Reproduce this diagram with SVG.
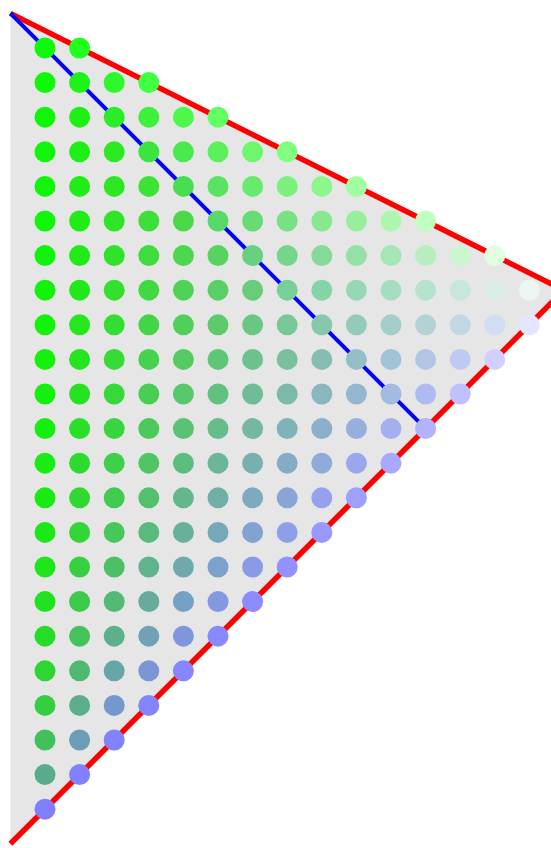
<svg xmlns="http://www.w3.org/2000/svg" width="551" height="848" viewBox="0 0 551 848">
<style>
.edge{fill:none;stroke:#ff0000;stroke-width:5.5;stroke-linejoin:miter}
.alt{fill:none;stroke:#0000ff;stroke-width:4}
.tri{fill:#e6e6e6;stroke:none}
</style>
<rect x="0" y="0" width="551" height="848" fill="#ffffff"/>
<g id="triangle"><polygon class="tri" points="10.4,13.4 564,290.2 10.4,843.8"/></g>
<g id="connectors">
<polyline class="edge" points="10.4,13.4 564,290.2 10.4,843.8"/>
<line class="alt" x1="10.4" y1="13.4" x2="425.6" y2="428.6"/>
</g>
<g id="dots">
<g id="row0"><circle cx="45" cy="48" r="10.5" fill="rgb(15,249,10)"/><circle cx="79.6" cy="48" r="10.5" fill="rgb(33,255,33)"/></g>
<g id="row1"><circle cx="45" cy="82.6" r="10.5" fill="rgb(15,248,7)"/><circle cx="79.6" cy="82.6" r="10.5" fill="rgb(29,242,25)"/><circle cx="114.2" cy="82.6" r="10.5" fill="rgb(46,248,43)"/><circle cx="148.8" cy="82.6" r="10.5" fill="rgb(65,255,65)"/></g>
<g id="row2"><circle cx="45" cy="117.2" r="10.5" fill="rgb(15,247,7)"/><circle cx="79.6" cy="117.2" r="10.5" fill="rgb(30,240,19)"/><circle cx="114.2" cy="117.2" r="10.5" fill="rgb(44,236,42)"/><circle cx="148.8" cy="117.2" r="10.5" fill="rgb(61,241,58)"/><circle cx="183.4" cy="117.2" r="10.5" fill="rgb(78,248,75)"/><circle cx="218" cy="117.2" r="10.5" fill="rgb(97,255,97)"/></g>
<g id="row3"><circle cx="45" cy="151.8" r="10.5" fill="rgb(16,246,8)"/><circle cx="79.6" cy="151.8" r="10.5" fill="rgb(31,239,20)"/><circle cx="114.2" cy="151.8" r="10.5" fill="rgb(45,233,34)"/><circle cx="148.8" cy="151.8" r="10.5" fill="rgb(59,229,61)"/><circle cx="183.4" cy="151.8" r="10.5" fill="rgb(75,234,76)"/><circle cx="218" cy="151.8" r="10.5" fill="rgb(92,240,91)"/><circle cx="252.6" cy="151.8" r="10.5" fill="rgb(109,247,108)"/><circle cx="287.2" cy="151.8" r="10.5" fill="rgb(129,255,129)"/></g>
<g id="row4"><circle cx="45" cy="186.4" r="10.5" fill="rgb(16,245,8)"/><circle cx="79.6" cy="186.4" r="10.5" fill="rgb(31,237,21)"/><circle cx="114.2" cy="186.4" r="10.5" fill="rgb(46,231,36)"/><circle cx="148.8" cy="186.4" r="10.5" fill="rgb(60,226,52)"/><circle cx="183.4" cy="186.4" r="10.5" fill="rgb(73,222,82)"/><circle cx="218" cy="186.4" r="10.5" fill="rgb(89,227,96)"/><circle cx="252.6" cy="186.4" r="10.5" fill="rgb(105,233,110)"/><circle cx="287.2" cy="186.4" r="10.5" fill="rgb(123,240,125)"/><circle cx="321.8" cy="186.4" r="10.5" fill="rgb(141,247,140)"/><circle cx="356.4" cy="186.4" r="10.5" fill="rgb(161,255,161)"/></g>
<g id="row5"><circle cx="45" cy="221" r="10.5" fill="rgb(17,245,9)"/><circle cx="79.6" cy="221" r="10.5" fill="rgb(32,236,23)"/><circle cx="114.2" cy="221" r="10.5" fill="rgb(47,229,39)"/><circle cx="148.8" cy="221" r="10.5" fill="rgb(61,223,56)"/><circle cx="183.4" cy="221" r="10.5" fill="rgb(74,218,73)"/><circle cx="218" cy="221" r="10.5" fill="rgb(88,216,104)"/><circle cx="252.6" cy="221" r="10.5" fill="rgb(103,220,117)"/><circle cx="287.2" cy="221" r="10.5" fill="rgb(119,225,131)"/><circle cx="321.8" cy="221" r="10.5" fill="rgb(136,232,144)"/><circle cx="356.4" cy="221" r="10.5" fill="rgb(153,238,158)"/><circle cx="391" cy="221" r="10.5" fill="rgb(172,246,173)"/><circle cx="425.6" cy="221" r="10.5" fill="rgb(192,255,192)"/></g>
<g id="row6"><circle cx="45" cy="255.6" r="10.5" fill="rgb(17,244,10)"/><circle cx="79.6" cy="255.6" r="10.5" fill="rgb(33,234,25)"/><circle cx="114.2" cy="255.6" r="10.5" fill="rgb(48,226,42)"/><circle cx="148.8" cy="255.6" r="10.5" fill="rgb(62,220,60)"/><circle cx="183.4" cy="255.6" r="10.5" fill="rgb(76,215,78)"/><circle cx="218" cy="255.6" r="10.5" fill="rgb(89,211,96)"/><circle cx="252.6" cy="255.6" r="10.5" fill="rgb(103,209,127)"/><circle cx="287.2" cy="255.6" r="10.5" fill="rgb(117,213,140)"/><circle cx="321.8" cy="255.6" r="10.5" fill="rgb(133,218,153)"/><circle cx="356.4" cy="255.6" r="10.5" fill="rgb(149,224,166)"/><circle cx="391" cy="255.6" r="10.5" fill="rgb(166,230,180)"/><circle cx="425.6" cy="255.6" r="10.5" fill="rgb(184,237,193)"/><circle cx="460.2" cy="255.6" r="10.5" fill="rgb(203,246,207)"/><circle cx="494.8" cy="255.6" r="10.5" fill="rgb(224,255,224)"/></g>
<g id="row7"><circle cx="45" cy="290.2" r="10.5" fill="rgb(18,243,10)"/><circle cx="79.6" cy="290.2" r="10.5" fill="rgb(34,232,27)"/><circle cx="114.2" cy="290.2" r="10.5" fill="rgb(50,224,45)"/><circle cx="148.8" cy="290.2" r="10.5" fill="rgb(64,217,65)"/><circle cx="183.4" cy="290.2" r="10.5" fill="rgb(78,211,84)"/><circle cx="218" cy="290.2" r="10.5" fill="rgb(91,207,103)"/><circle cx="252.6" cy="290.2" r="10.5" fill="rgb(104,204,121)"/><circle cx="287.2" cy="290.2" r="10.5" fill="rgb(119,208,151)"/><circle cx="321.8" cy="290.2" r="10.5" fill="rgb(133,212,166)"/><circle cx="356.4" cy="290.2" r="10.5" fill="rgb(149,216,179)"/><circle cx="391" cy="290.2" r="10.5" fill="rgb(165,221,192)"/><circle cx="425.6" cy="290.2" r="10.5" fill="rgb(181,226,204)"/><circle cx="460.2" cy="290.2" r="10.5" fill="rgb(198,231,217)"/><circle cx="494.8" cy="290.2" r="10.5" fill="rgb(216,238,230)"/><circle cx="529.4" cy="290.2" r="10.5" fill="rgb(236,246,243)"/></g>
<g id="row8"><circle cx="45" cy="324.8" r="10.5" fill="rgb(19,242,11)"/><circle cx="79.6" cy="324.8" r="10.5" fill="rgb(36,231,29)"/><circle cx="114.2" cy="324.8" r="10.5" fill="rgb(51,221,49)"/><circle cx="148.8" cy="324.8" r="10.5" fill="rgb(66,214,70)"/><circle cx="183.4" cy="324.8" r="10.5" fill="rgb(80,207,90)"/><circle cx="218" cy="324.8" r="10.5" fill="rgb(93,202,110)"/><circle cx="252.6" cy="324.8" r="10.5" fill="rgb(106,199,130)"/><circle cx="287.2" cy="324.8" r="10.5" fill="rgb(119,200,150)"/><circle cx="321.8" cy="324.8" r="10.5" fill="rgb(134,200,172)"/><circle cx="356.4" cy="324.8" r="10.5" fill="rgb(148,202,187)"/><circle cx="391" cy="324.8" r="10.5" fill="rgb(163,206,201)"/><circle cx="425.6" cy="324.8" r="10.5" fill="rgb(178,210,214)"/><circle cx="460.2" cy="324.8" r="10.5" fill="rgb(193,215,228)"/><circle cx="494.8" cy="324.8" r="10.5" fill="rgb(209,221,242)"/><circle cx="529.4" cy="324.8" r="10.5" fill="rgb(229,229,255)"/></g>
<g id="row9"><circle cx="45" cy="359.4" r="10.5" fill="rgb(20,241,13)"/><circle cx="79.6" cy="359.4" r="10.5" fill="rgb(37,228,32)"/><circle cx="114.2" cy="359.4" r="10.5" fill="rgb(54,219,54)"/><circle cx="148.8" cy="359.4" r="10.5" fill="rgb(69,210,76)"/><circle cx="183.4" cy="359.4" r="10.5" fill="rgb(83,203,98)"/><circle cx="218" cy="359.4" r="10.5" fill="rgb(96,198,119)"/><circle cx="252.6" cy="359.4" r="10.5" fill="rgb(109,194,139)"/><circle cx="287.2" cy="359.4" r="10.5" fill="rgb(122,191,158)"/><circle cx="321.8" cy="359.4" r="10.5" fill="rgb(134,189,177)"/><circle cx="356.4" cy="359.4" r="10.5" fill="rgb(149,191,199)"/><circle cx="391" cy="359.4" r="10.5" fill="rgb(162,194,214)"/><circle cx="425.6" cy="359.4" r="10.5" fill="rgb(176,198,228)"/><circle cx="460.2" cy="359.4" r="10.5" fill="rgb(190,202,241)"/><circle cx="494.8" cy="359.4" r="10.5" fill="rgb(208,208,255)"/></g>
<g id="row10"><circle cx="45" cy="394" r="10.5" fill="rgb(21,239,14)"/><circle cx="79.6" cy="394" r="10.5" fill="rgb(39,226,35)"/><circle cx="114.2" cy="394" r="10.5" fill="rgb(56,215,59)"/><circle cx="148.8" cy="394" r="10.5" fill="rgb(72,206,83)"/><circle cx="183.4" cy="394" r="10.5" fill="rgb(86,199,106)"/><circle cx="218" cy="394" r="10.5" fill="rgb(99,193,128)"/><circle cx="252.6" cy="394" r="10.5" fill="rgb(112,188,150)"/><circle cx="287.2" cy="394" r="10.5" fill="rgb(124,185,170)"/><circle cx="321.8" cy="394" r="10.5" fill="rgb(137,183,189)"/><circle cx="356.4" cy="394" r="10.5" fill="rgb(149,182,207)"/><circle cx="391" cy="394" r="10.5" fill="rgb(163,186,225)"/><circle cx="425.6" cy="394" r="10.5" fill="rgb(175,186,241)"/><circle cx="460.2" cy="394" r="10.5" fill="rgb(192,192,255)"/></g>
<g id="row11"><circle cx="45" cy="428.6" r="10.5" fill="rgb(22,238,16)"/><circle cx="79.6" cy="428.6" r="10.5" fill="rgb(42,223,39)"/><circle cx="114.2" cy="428.6" r="10.5" fill="rgb(59,212,65)"/><circle cx="148.8" cy="428.6" r="10.5" fill="rgb(75,202,90)"/><circle cx="183.4" cy="428.6" r="10.5" fill="rgb(90,194,115)"/><circle cx="218" cy="428.6" r="10.5" fill="rgb(103,188,139)"/><circle cx="252.6" cy="428.6" r="10.5" fill="rgb(116,183,162)"/><circle cx="287.2" cy="428.6" r="10.5" fill="rgb(128,179,183)"/><circle cx="321.8" cy="428.6" r="10.5" fill="rgb(140,176,203)"/><circle cx="356.4" cy="428.6" r="10.5" fill="rgb(152,175,221)"/><circle cx="391" cy="428.6" r="10.5" fill="rgb(164,175,239)"/><circle cx="425.6" cy="428.6" r="10.5" fill="rgb(178,178,255)"/></g>
<g id="row12"><circle cx="45" cy="463.2" r="10.5" fill="rgb(24,236,18)"/><circle cx="79.6" cy="463.2" r="10.5" fill="rgb(44,220,44)"/><circle cx="114.2" cy="463.2" r="10.5" fill="rgb(62,208,72)"/><circle cx="148.8" cy="463.2" r="10.5" fill="rgb(79,197,100)"/><circle cx="183.4" cy="463.2" r="10.5" fill="rgb(93,189,126)"/><circle cx="218" cy="463.2" r="10.5" fill="rgb(107,182,151)"/><circle cx="252.6" cy="463.2" r="10.5" fill="rgb(120,176,175)"/><circle cx="287.2" cy="463.2" r="10.5" fill="rgb(132,172,197)"/><circle cx="321.8" cy="463.2" r="10.5" fill="rgb(144,170,218)"/><circle cx="356.4" cy="463.2" r="10.5" fill="rgb(155,167,237)"/><circle cx="391" cy="463.2" r="10.5" fill="rgb(168,168,255)"/></g>
<g id="row13"><circle cx="45" cy="497.8" r="10.5" fill="rgb(26,234,20)"/><circle cx="79.6" cy="497.8" r="10.5" fill="rgb(48,217,49)"/><circle cx="114.2" cy="497.8" r="10.5" fill="rgb(66,203,80)"/><circle cx="148.8" cy="497.8" r="10.5" fill="rgb(83,192,110)"/><circle cx="183.4" cy="497.8" r="10.5" fill="rgb(98,183,139)"/><circle cx="218" cy="497.8" r="10.5" fill="rgb(112,175,166)"/><circle cx="252.6" cy="497.8" r="10.5" fill="rgb(125,170,191)"/><circle cx="287.2" cy="497.8" r="10.5" fill="rgb(137,165,214)"/><circle cx="321.8" cy="497.8" r="10.5" fill="rgb(149,162,235)"/><circle cx="356.4" cy="497.8" r="10.5" fill="rgb(159,159,255)"/></g>
<g id="row14"><circle cx="45" cy="532.4" r="10.5" fill="rgb(28,232,23)"/><circle cx="79.6" cy="532.4" r="10.5" fill="rgb(51,213,56)"/><circle cx="114.2" cy="532.4" r="10.5" fill="rgb(71,198,90)"/><circle cx="148.8" cy="532.4" r="10.5" fill="rgb(88,186,123)"/><circle cx="183.4" cy="532.4" r="10.5" fill="rgb(104,176,154)"/><circle cx="218" cy="532.4" r="10.5" fill="rgb(118,169,183)"/><circle cx="252.6" cy="532.4" r="10.5" fill="rgb(130,162,209)"/><circle cx="287.2" cy="532.4" r="10.5" fill="rgb(143,158,233)"/><circle cx="321.8" cy="532.4" r="10.5" fill="rgb(152,152,255)"/></g>
<g id="row15"><circle cx="45" cy="567" r="10.5" fill="rgb(31,229,27)"/><circle cx="79.6" cy="567" r="10.5" fill="rgb(56,208,65)"/><circle cx="114.2" cy="567" r="10.5" fill="rgb(77,192,103)"/><circle cx="148.8" cy="567" r="10.5" fill="rgb(95,180,139)"/><circle cx="183.4" cy="567" r="10.5" fill="rgb(110,169,172)"/><circle cx="218" cy="567" r="10.5" fill="rgb(124,161,203)"/><circle cx="252.6" cy="567" r="10.5" fill="rgb(137,154,230)"/><circle cx="287.2" cy="567" r="10.5" fill="rgb(146,146,255)"/></g>
<g id="row16"><circle cx="45" cy="601.6" r="10.5" fill="rgb(34,225,32)"/><circle cx="79.6" cy="601.6" r="10.5" fill="rgb(61,202,76)"/><circle cx="114.2" cy="601.6" r="10.5" fill="rgb(84,185,119)"/><circle cx="148.8" cy="601.6" r="10.5" fill="rgb(102,171,158)"/><circle cx="183.4" cy="601.6" r="10.5" fill="rgb(118,161,194)"/><circle cx="218" cy="601.6" r="10.5" fill="rgb(132,152,226)"/><circle cx="252.6" cy="601.6" r="10.5" fill="rgb(140,140,255)"/></g>
<g id="row17"><circle cx="45" cy="636.2" r="10.5" fill="rgb(39,220,40)"/><circle cx="79.6" cy="636.2" r="10.5" fill="rgb(68,195,91)"/><circle cx="114.2" cy="636.2" r="10.5" fill="rgb(92,176,139)"/><circle cx="148.8" cy="636.2" r="10.5" fill="rgb(111,162,183)"/><circle cx="183.4" cy="636.2" r="10.5" fill="rgb(127,150,221)"/><circle cx="218" cy="636.2" r="10.5" fill="rgb(136,136,255)"/></g>
<g id="row18"><circle cx="45" cy="670.8" r="10.5" fill="rgb(45,214,50)"/><circle cx="79.6" cy="670.8" r="10.5" fill="rgb(77,186,111)"/><circle cx="114.2" cy="670.8" r="10.5" fill="rgb(102,166,166)"/><circle cx="148.8" cy="670.8" r="10.5" fill="rgb(122,150,214)"/><circle cx="183.4" cy="670.8" r="10.5" fill="rgb(134,134,255)"/></g>
<g id="row19"><circle cx="45" cy="705.4" r="10.5" fill="rgb(54,206,65)"/><circle cx="79.6" cy="705.4" r="10.5" fill="rgb(90,174,139)"/><circle cx="114.2" cy="705.4" r="10.5" fill="rgb(116,152,203)"/><circle cx="148.8" cy="705.4" r="10.5" fill="rgb(132,132,255)"/></g>
<g id="row20"><circle cx="45" cy="740" r="10.5" fill="rgb(66,193,91)"/><circle cx="79.6" cy="740" r="10.5" fill="rgb(107,157,183)"/><circle cx="114.2" cy="740" r="10.5" fill="rgb(130,130,255)"/></g>
<g id="row21"><circle cx="45" cy="774.6" r="10.5" fill="rgb(88,172,140)"/><circle cx="79.6" cy="774.6" r="10.5" fill="rgb(129,129,255)"/></g>
<g id="row22"><circle cx="45" cy="809.2" r="10.5" fill="rgb(128,128,255)"/></g>
</g>
</svg>
